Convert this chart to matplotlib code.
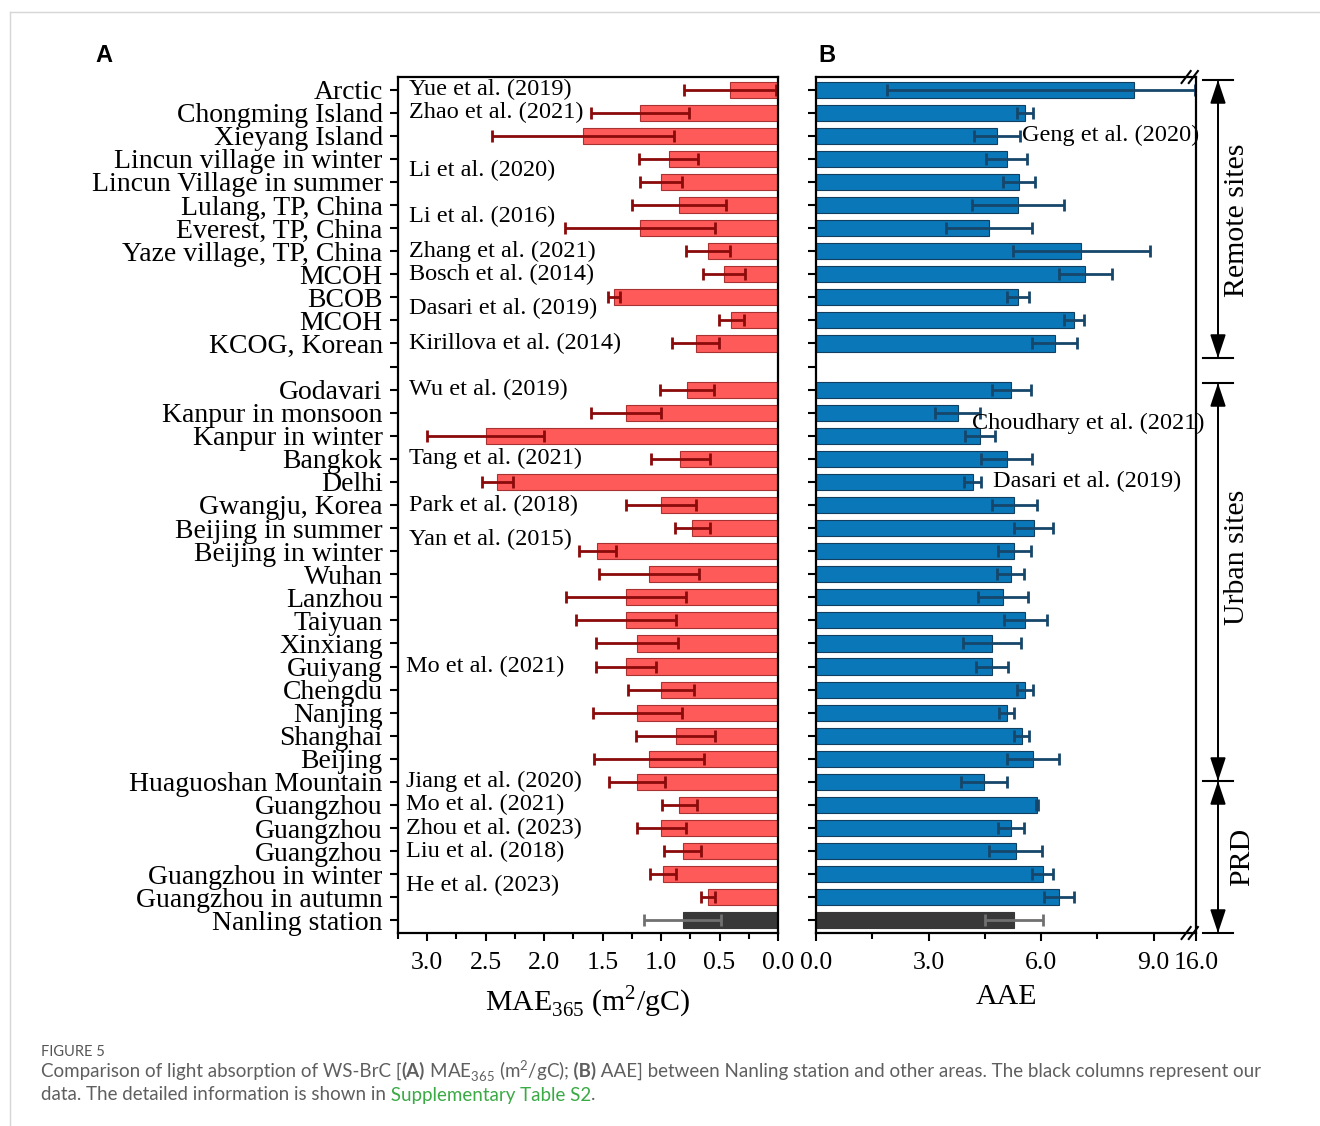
import numpy as np
import matplotlib.pyplot as plt
from matplotlib.lines import Line2D
from matplotlib.patches import FancyArrowPatch
from matplotlib.ticker import MultipleLocator, FixedLocator

plt.rcParams['font.family'] = ['Liberation Serif', 'DejaVu Serif']

W, H = 1320, 1126

sites = ["Arctic", "Chongming Island", "Xieyang Island", "Lincun village in winter",
         "Lincun Village in summer", "Lulang, TP, China", "Everest, TP, China",
         "Yaze village, TP, China", "MCOH", "BCOB", "MCOH", "KCOG, Korean",
         "Godavari", "Kanpur in monsoon", "Kanpur in winter", "Bangkok", "Delhi",
         "Gwangju, Korea", "Beijing in summer", "Beijing in winter", "Wuhan",
         "Lanzhou", "Taiyuan", "Xinxiang", "Guiyang", "Chengdu", "Nanjing",
         "Shanghai", "Beijing", "Huaguoshan Mountain", "Guangzhou", "Guangzhou",
         "Guangzhou", "Guangzhou in winter", "Guangzhou in autumn", "Nanling station"]
n_remote = 12

mae = [0.41, 1.18, 1.67, 0.935, 1.0, 0.845, 1.18, 0.60, 0.465, 1.40, 0.40, 0.705,
       0.775, 1.30, 2.50, 0.835, 2.40, 1.0, 0.735, 1.545, 1.105, 1.30, 1.30, 1.205,
       1.30, 1.0, 1.205, 0.875, 1.105, 1.205, 0.845, 1.0, 0.815, 0.985, 0.60, 0.815]
mae_err = [0.39, 0.42, 0.78, 0.25, 0.18, 0.40, 0.64, 0.19, 0.18, 0.05, 0.105, 0.20,
           0.23, 0.30, 0.50, 0.25, 0.13, 0.30, 0.15, 0.16, 0.43, 0.51, 0.43, 0.35,
           0.26, 0.28, 0.38, 0.34, 0.47, 0.24, 0.15, 0.21, 0.16, 0.11, 0.06, 0.33]
aae = [8.48, 5.57, 4.82, 5.08, 5.41, 5.38, 4.62, 7.07, 7.18, 5.38, 6.87, 6.37,
       5.21, 3.78, 4.38, 5.08, 4.18, 5.28, 5.81, 5.28, 5.19, 4.98, 5.58, 4.69,
       4.69, 5.58, 5.08, 5.48, 5.78, 4.48, 5.89, 5.19, 5.32, 6.04, 6.47, 5.28]
aae_err = [6.6, 0.21, 0.62, 0.54, 0.42, 1.22, 1.15, 1.83, 0.70, 0.30, 0.27, 0.60,
           0.52, 0.60, 0.40, 0.69, 0.23, 0.60, 0.52, 0.44, 0.36, 0.66, 0.57, 0.78,
           0.43, 0.21, 0.20, 0.19, 0.69, 0.62, 0.02, 0.35, 0.71, 0.29, 0.40, 0.77]

# reference labels: (text, row)
refs_mae = [("Yue et al. (2019)", 0), ("Zhao et al. (2021)", 1), ("Li et al. (2020)", 3.5),
            ("Li et al. (2016)", 5.5), ("Zhang et al. (2021)", 7), ("Bosch et al. (2014)", 8),
            ("Dasari et al. (2019)", 9.5), ("Kirillova et al. (2014)", 11),
            ("Wu et al. (2019)", 13), ("Tang et al. (2021)", 16), ("Park et al. (2018)", 18),
            ("Yan et al. (2015)", 19.5), ("Mo et al. (2021)", 25), ("Jiang et al. (2020)", 30),
            ("Mo et al. (2021)", 31), ("Zhou et al. (2023)", 32), ("Liu et al. (2018)", 33),
            ("He et al. (2023)", 34.5)]
refs_aae = [("Geng et al. (2020)", 5.49, 2), ("Choudhary et al. (2021)", 4.15, 14.45),
            ("Dasari et al. (2019)", 4.73, 17)]

ypos = [i + (1 if i >= n_remote else 0) for i in range(len(sites))]
ytick_labels = sites[:n_remote] + [""] + sites[n_remote:]

fig = plt.figure(figsize=(W / 100, H / 100), dpi=100)
axA = fig.add_axes([398 / W, 1 - 933 / H, 380 / W, 856 / H])
axB = fig.add_axes([816 / W, 1 - 933 / H, 380 / W, 856 / H])

# ---- panel A
axA.barh(ypos[:-1], mae[:-1], height=0.7, color='#FF5A5A', edgecolor='#A83232', linewidth=0.8,
         xerr=mae_err[:-1], error_kw=dict(ecolor='#8B0A0A', elinewidth=2, capsize=4, capthick=2))
axA.barh(ypos[-1:], mae[-1:], height=0.7, color='#383838', edgecolor='#383838', linewidth=0.8,
         xerr=mae_err[-1:], error_kw=dict(ecolor='#707070', elinewidth=2, capsize=4, capthick=2))
axA.set_xlim(3.25, 0)
axA.set_xticks(np.arange(0, 3.01, 0.5))
axA.set_xticklabels(["%.1f" % v for v in np.arange(0, 3.01, 0.5)])
axA.xaxis.set_minor_locator(MultipleLocator(0.25))
axA.set_xlabel(r"MAE$_{\mathregular{365}}$ (m$^{\mathregular{2}}$/gC)", fontsize=21.5, labelpad=7)
for txt, row in refs_mae:
    xa = 0.028 if row < 20 else 0.02
    axA.text(xa, row, txt, transform=axA.get_yaxis_transform(), fontsize=17.5,
             ha='left', va='center')

# ---- panel B with broken axis above ~9.9
k = (10.13 - 9.9) / (16 - 9.9)


def fwd(x):
    x = np.asarray(x, dtype=float)
    return np.where(x <= 9.9, x, 9.9 + (x - 9.9) * k)


def inv(x):
    x = np.asarray(x, dtype=float)
    return np.where(x <= 9.9, x, 9.9 + (x - 9.9) / k)


axB.set_xscale('function', functions=(fwd, inv))
axB.barh(ypos[:-1], aae[:-1], height=0.7, color='#0A78B8', edgecolor='#123F60', linewidth=0.8,
         xerr=aae_err[:-1], error_kw=dict(ecolor='#16466A', elinewidth=2, capsize=4, capthick=2))
axB.barh(ypos[-1:], aae[-1:], height=0.7, color='#383838', edgecolor='#383838', linewidth=0.8,
         xerr=aae_err[-1:], error_kw=dict(ecolor='#707070', elinewidth=2, capsize=4, capthick=2))
axB.set_xlim(0, 16)
axB.xaxis.set_major_locator(FixedLocator([0, 3, 6, 9, 16]))
axB.set_xticklabels(["0.0", "3.0", "6.0", "9.0", "16.0"])
axB.xaxis.set_minor_locator(FixedLocator([1.5, 4.5, 7.5]))
axB.set_xlabel("AAE", fontsize=21.5, labelpad=7)
for txt, xv, row in refs_aae:
    axB.text(xv, row, txt, fontsize=17.5, ha='left', va='center', clip_on=False)

for ax in (axA, axB):
    ax.set_ylim(36.55, -0.55)
    ax.set_yticks(range(len(ytick_labels)))
    for s in ax.spines.values():
        s.set_linewidth(1.6)
    ax.tick_params(axis='both', which='major', direction='out', length=6, width=1.5)
    ax.tick_params(axis='x', which='minor', direction='out', length=4, width=1.5)
    ax.tick_params(axis='x', labelsize=18.5, pad=8)
    ax.tick_params(axis='y', labelsize=20, pad=5)
axA.set_yticklabels(ytick_labels)
axB.set_yticklabels([""] * len(ytick_labels))

# break marks on panel B
for yb in (0, 1):
    for xb in (0.974, 0.993):
        axB.add_line(Line2D([xb - 0.012, xb + 0.012], [yb - 0.007, yb + 0.007],
                            transform=axB.transAxes, color='black', lw=1.5, clip_on=False))


def fx(x):
    return x / W


def fy(y):
    return 1 - y / H


# group brackets on the right
for yl in (80, 358, 383, 781, 933):
    fig.add_artist(Line2D([fx(1203), fx(1233)], [fy(yl), fy(yl)], transform=fig.transFigure,
                          color='black', lw=1.5))
for y0, y1 in ((80, 358), (383, 781), (781, 933)):
    fig.add_artist(FancyArrowPatch((fx(1218), fy(y0)), (fx(1218), fy(y1)),
                                   transform=fig.transFigure, arrowstyle='-|>,head_length=0.9,head_width=0.3',
                                   mutation_scale=16, color='black', lw=1.3, shrinkA=0, shrinkB=0))
    fig.add_artist(FancyArrowPatch((fx(1218), fy(y1)), (fx(1218), fy(y0)),
                                   transform=fig.transFigure, arrowstyle='-|>,head_length=0.9,head_width=0.3',
                                   mutation_scale=16, color='black', lw=1.3, shrinkA=0, shrinkB=0))
groups = [("Remote sites", 1237, 220), ("Urban sites", 1237, 557), ("PRD", 1242, 857)]
for txt, gx, gy in groups:
    fig.text(fx(gx), fy(gy), txt, rotation=90, fontsize=21.5, ha='center', va='center')

# panel letters
fig.text(fx(104), fy(55), "A", family='Liberation Sans', weight='bold', fontsize=17,
         ha='center', va='center')
fig.text(fx(827), fy(55), "B", family='Liberation Sans', weight='bold', fontsize=17,
         ha='center', va='center')

# card border
fig.add_artist(Line2D([fx(10), 1], [fy(12), fy(12)], transform=fig.transFigure, color='#D6D6D6', lw=1))
fig.add_artist(Line2D([fx(10), fx(10)], [fy(12), 0], transform=fig.transFigure, color='#D6D6D6', lw=1))

# caption
cap_font = 'Lato'
gray = '#5F5F5F'
fig.text(fx(41), fy(1052), "FIGURE 5", family=cap_font, fontsize=10.5, color='#555555',
         ha='left', va='center')
line1 = [("Comparison of light absorption of WS-BrC [", gray, 'normal'), ("(A)", gray, 'bold'),
         (r" MAE$_{\mathregular{365}}$ (m$^{\mathregular{2}}$/gC);", gray, 'normal'),
         (" (B)", gray, 'bold'),
         (" AAE] between Nanling station and other areas. The black columns represent our", gray, 'normal')]
line2 = [("data. The detailed information is shown in", gray, 'normal'),
         (" Supplementary Table S2", '#3AAA45', 'normal'), (".", gray, 'normal')]

renderer = fig.canvas.get_renderer()


def place(segments, x0, y, size):
    x = x0
    made = []
    for txt, col, wt in segments:
        t = fig.text(fx(x), fy(y), txt, family=cap_font, fontsize=size, color=col,
                     weight=wt, ha='left', va='center')
        bb = t.get_window_extent(renderer)
        x = bb.x1
        made.append(t)
    return x, made


end, made = place(line1, 41, 1071, 13)
for t in made:
    t.remove()
size = 13 * (1258 - 41) / (end - 41)
place(line1, 41, 1071, size)
place(line2, 41, 1095, size)

fig.savefig("out.png", dpi=100)
